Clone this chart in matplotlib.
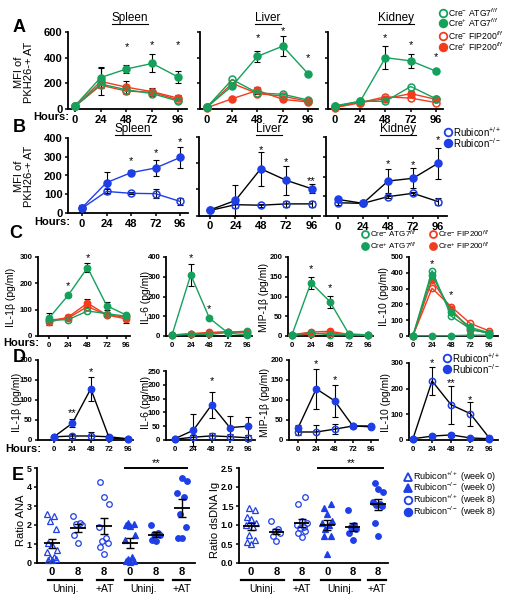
import numpy as np
import matplotlib
matplotlib.use("Agg")
import matplotlib.pyplot as plt
from matplotlib.lines import Line2D
from matplotlib.transforms import offset_copy

plt.rcParams['font.family'] = ['Liberation Sans', 'DejaVu Sans']
plt.rcParams['mathtext.fontset'] = 'custom'
plt.rcParams['mathtext.rm'] = 'Liberation Sans'
plt.rcParams['mathtext.it'] = 'Liberation Sans:italic'
plt.rcParams['mathtext.bf'] = 'Liberation Sans:bold'

W, H = 512, 604
GREEN = '#15a05c'
RED = '#f23c1e'
BLUE = '#1e3ee8'

hours = [0, 24, 48, 72, 96]

# --- A: MFI of PKH26+ AT (ATG7 / FIP200) ---
a_spl_atg7_wt = [20, 195, 150, 120, 62]
a_spl_atg7_ko = [25, 245, 312, 355, 250]
a_spl_atg7_ko_err = [5, 80, 28, 70, 48]
a_spl_fip_wt = [20, 185, 140, 130, 72]
a_spl_fip_ko = [20, 215, 170, 135, 85]
a_spl_fip_ko_err = [5, 105, 50, 30, 25]
a_spl_stars = [506, 522, 522]

a_liv_atg7_wt = [15, 230, 125, 115, 70]
a_liv_atg7_ko = [15, 180, 410, 490, 275]
a_liv_atg7_ko_err = [5, 20, 45, 80, 12]
a_liv_fip_wt = [12, 200, 120, 100, 60]
a_liv_fip_ko = [10, 80, 145, 75, 55]
a_liv_fip_ko_err = [3, 10, 28, 12, 8]
a_liv_stars = [582, 636, 420]

a_kid_atg7_wt = [20, 60, 60, 175, 80]
a_kid_atg7_ko = [25, 60, 400, 375, 295]
a_kid_atg7_ko_err = [5, 5, 90, 55, 8]
a_kid_fip_wt = [15, 50, 95, 85, 50]
a_kid_fip_ko = [10, 50, 80, 120, 75]
a_kid_fip_ko_err = [3, 5, 15, 20, 15]
a_kid_stars = [582, 524, 434]
a_star_hours = [48, 72, 96]

# --- B: MFI of PKH26+ AT (Rubicon) ---
b_spl_wt = [25, 115, 105, 103, 62]
b_spl_wt_err = [18, 12, 5, 25, 17]
b_spl_ko = [28, 162, 215, 240, 296]
b_spl_ko_err = [15, 55, 15, 45, 58]
b_spl_stars = [297, 336, 398]

b_liv_wt = [20, 42, 40, 45, 45]
b_liv_wt_err = [4, 12, 6, 12, 10]
b_liv_ko = [22, 58, 179, 135, 103]
b_liv_ko_err = [5, 60, 64, 56, 18]
b_liv_stars = [263, 218, 147]
b_liv_star_text = ['*', '*', '**']

b_kid_wt = [67, 64, 98, 115, 73]
b_kid_wt_err = [10, 5, 8, 8, 17]
b_kid_ko = [84, 64, 177, 191, 267]
b_kid_ko_err = [10, 6, 59, 50, 79]
b_kid_stars = [283, 275, 401]

# --- C: cytokines (ATG7 / FIP200) ---
c_il1_atg7_wt = [60, 62, 95, 85, 75]
c_il1_atg7_ko = [68, 155, 260, 115, 80]
c_il1_atg7_ko_err = [20, 5, 18, 15, 8]
c_il1_fip_wt = [60, 68, 112, 80, 72]
c_il1_fip_ko = [52, 72, 125, 80, 65]
c_il1_fip_ko_err = [12, 8, 15, 8, 15]
c_il1_star_hours = [24, 48]
c_il1_stars = [202, 308]

c_il6_atg7_wt = [5, 8, 8, 18, 25]
c_il6_atg7_ko = [5, 310, 90, 15, 5]
c_il6_atg7_ko_err = [2, 55, 5, 5, 3]
c_il6_fip_wt = [5, 10, 15, 20, 20]
c_il6_fip_ko = [5, 12, 18, 22, 15]
c_il6_stars = [410, 153]

c_mip_atg7_wt = [3, 8, 3, 3, 3]
c_mip_atg7_ko = [3, 135, 87, 5, 3]
c_mip_atg7_ko_err = [0, 15, 15, 2, 0]
c_mip_fip_wt = [2, 5, 8, 3, 2]
c_mip_fip_ko = [3, 10, 12, 4, 3]
c_mip_stars = [177, 129]

c_il10_atg7_wt = [2, 413, 126, 45, 15]
c_il10_atg7_ko = [2, 386, 154, 55, 20]
c_il10_atg7_ko_err = [0, 15, 12, 8, 3]
c_il10_uninj = [2, 2, 2, 5, 5]
c_il10_fip_wt = [2, 302, 186, 80, 32]
c_il10_fip_ko = [2, 354, 169, 38, 21]
c_il10_stars = [477, 280]

# --- D: cytokines (Rubicon) ---
d_il1_wt = [8, 10, 10, 8, 3]
d_il1_wt_err = [3, 5, 10, 5, 1]
d_il1_ko = [8, 42, 128, 5, 3]
d_il1_ko_err = [3, 10, 30, 3, 1]
d_il1_star_hours = [24, 48]
d_il1_stars = [75, 179]
d_il1_star_text = ['**', '*']

d_il6_wt = [3, 10, 15, 12, 8]
d_il6_wt_err = [2, 8, 10, 10, 10]
d_il6_ko = [5, 35, 127, 45, 50]
d_il6_ko_err = [2, 58, 48, 42, 32]
d_il6_star_hours = [48]
d_il6_stars = [226]

d_mip_wt = [20, 20, 27, 35, 35]
d_mip_wt_err = [8, 18, 12, 4, 3]
d_mip_ko = [30, 128, 98, 35, 33]
d_mip_ko_err = [8, 50, 40, 5, 4]
d_mip_star_hours = [24, 48]
d_mip_stars = [198, 158]

d_il10_wt = [5, 230, 137, 103, 8]
d_il10_wt_err = [3, 55, 73, 47, 3]
d_il10_ko = [5, 15, 20, 8, 5]
d_il10_ko_err = [3, 10, 8, 3, 2]
d_il10_star_hours = [24, 48, 72]
d_il10_stars = [312, 234, 169]
d_il10_star_text = ['*', '**', '*']

# --- E: autoantibodies ---
e_ticks = ['0', '8', '8', '0', '8', '8']
e_groups = ['Uninj.', '+AT', 'Uninj.', '+AT']
ana = [
    [2.6, 2.45, 2.2, 1.8, 1.05, 0.95, 0.7, 0.6, 0.25, 0.15, 0.15, 0.2, 0.3],
    [2.45, 2.1, 2.05, 2.0, 1.5, 1.05],
    [4.25, 3.45, 3.1, 1.9, 1.3, 1.15, 1.05, 0.85, 0.45],
    [2.1, 2.05, 2.0, 1.95, 1.5, 1.2, 0.3, 0.1, 0.1, 0.2, 0.05],
    [2.0, 1.6, 1.55, 1.5, 1.2, 1.15],
    [4.5, 4.3, 3.7, 3.5, 2.6, 1.9, 1.3, 1.3],
]
dsdna = [
    [1.45, 1.4, 1.2, 1.15, 1.05, 1.0, 0.95, 0.75, 0.6, 0.55, 0.5],
    [1.1, 0.9, 0.85, 0.8, 0.72, 0.58],
    [1.75, 1.55, 1.1, 1.05, 1.0, 0.95, 0.92, 0.85, 0.8, 0.68],
    [1.55, 1.45, 1.3, 1.1, 1.05, 1.0, 0.9, 0.7, 0.7, 0.25],
    [1.4, 1.0, 0.95, 0.9, 0.8, 0.6],
    [2.1, 1.95, 1.88, 1.6, 1.55, 1.52, 1.5, 1.05, 0.72],
]
e_markers = ['^', 'o', 'o', '^', 'o', 'o']
e_filled = [False, False, False, True, True, True]

fig = plt.figure(figsize=(W / 100, H / 100), dpi=100)


def fx(x):
    return x / W


def fy(y):
    return 1 - y / H


def axes_px(l, t, r, b):
    return fig.add_axes([l / W, 1 - b / H, (r - l) / W, (b - t) / H])


def frame(ax, fs):
    for s in ('top', 'right'):
        ax.spines[s].set_visible(False)
    for s in ('left', 'bottom'):
        ax.spines[s].set_linewidth(1.3)
    ax.tick_params(width=1.1, length=2.5, labelsize=fs, pad=1.5)


def curve(ax, y, err, color, filled, line=None, ms=5):
    ax.plot(hours, y, color=line or color, lw=1, marker='o', ms=ms,
            mfc=color if filled else 'none', mec=color, mew=1.1, zorder=3,
            clip_on=False)
    if err is not None:
        e = np.array(err, dtype=float)
        m = e > 0
        ax.errorbar(np.array(hours)[m], np.array(y)[m], yerr=e[m], fmt='none',
                    ecolor='black', elinewidth=0.8, capsize=2.5, capthick=0.8,
                    zorder=2, clip_on=False)


def setup(ax, xlim, ylim, yticks, show_y, fs):
    frame(ax, fs)
    ax.set_xlim(xlim)
    ax.set_ylim(ylim)
    ax.set_xticks(hours)
    ax.set_xticklabels([str(h) for h in hours], fontweight='bold', fontsize=fs)
    ax.set_yticks(yticks)
    ax.set_yticklabels([str(v) for v in yticks] if show_y else [''] * len(yticks),
                       fontweight='bold', fontsize=fs)


def stars(ax, xs, ys, texts=None, fs=8):
    tr = offset_copy(ax.transData, fig=fig, y=-2.5, units='points')
    for i, (x, y) in enumerate(zip(xs, ys)):
        t = texts[i] if texts else '*'
        ax.text(x, y, t, ha='center', va='center', fontsize=fs, transform=tr)


def key(x, y, marker, color, filled, text, fs=6.5, ms=5.5):
    fig.add_artist(Line2D([fx(x)], [fy(y)], marker=marker, ms=ms,
                          mfc=color if filled else 'none', mec=color, mew=1.3,
                          ls='none', transform=fig.transFigure))
    fig.text(fx(x + 5), fy(y), text, fontsize=fs, va='center')


titles = []


def title(x, y, text):
    titles.append(fig.text(fx(x), fy(y), text, fontsize=8.5, ha='center', va='center'))


def letter(x, y, s):
    fig.text(fx(x), fy(y), s, fontsize=13, fontweight='bold', ha='center', va='center')


def vlabel(x, y, s, fs=8):
    fig.text(fx(x), fy(y), s, fontsize=fs, rotation=90, ha='center', va='center',
             multialignment='center', linespacing=1.0)


def hours_label(x, y, fs):
    fig.text(fx(x), fy(y), 'Hours:', fontsize=fs, fontweight='bold', ha='center', va='center')


# ---------------- Panel A ----------------
ax = axes_px(68, 32, 187, 109)
curve(ax, a_spl_fip_wt, None, RED, False)
curve(ax, a_spl_fip_ko, a_spl_fip_ko_err, RED, True)
curve(ax, a_spl_atg7_wt, None, GREEN, False)
curve(ax, a_spl_atg7_ko, a_spl_atg7_ko_err, GREEN, True)
setup(ax, (-6.5, 104.4), (0, 600), [0, 200, 400, 600], True, 8)
stars(ax, a_star_hours, a_spl_stars)

ax = axes_px(200, 32, 318, 109)
curve(ax, a_liv_fip_wt, None, RED, False)
curve(ax, a_liv_fip_ko, a_liv_fip_ko_err, RED, True)
curve(ax, a_liv_atg7_wt, None, GREEN, False)
curve(ax, a_liv_atg7_ko, a_liv_atg7_ko_err, GREEN, True)
setup(ax, (-6.6, 105.5), (0, 600), [0, 200, 400, 600], False, 8)
stars(ax, a_star_hours, a_liv_stars)

ax = axes_px(328, 32, 443, 109)
curve(ax, a_kid_fip_wt, None, RED, False)
curve(ax, a_kid_fip_ko, a_kid_fip_ko_err, RED, True)
curve(ax, a_kid_atg7_wt, None, GREEN, False)
curve(ax, a_kid_atg7_ko, a_kid_atg7_ko_err, GREEN, True)
setup(ax, (-6.6, 102.7), (0, 600), [0, 200, 400, 600], False, 8)
stars(ax, a_star_hours, a_kid_stars)

title(130, 18, 'Spleen')
title(268, 18, 'Liver')
title(396, 18, 'Kidney')
letter(19, 27, 'A')
vlabel(24, 72, 'MFI of\nPKH26-+ AT')
hours_label(51, 117, 8)

key(443, 13, 'o', GREEN, False, r'Cre$^{-}$ ATG7$^{f/f}$', fs=6.2)
key(443, 23, 'o', GREEN, True, r'Cre$^{+}$ ATG7$^{f/f}$', fs=6.2)
key(443, 36, 'o', RED, False, r'Cre$^{-}$ FIP200$^{f/f}$', fs=6.2)
key(443, 47, 'o', RED, True, r'Cre$^{+}$ FIP200$^{f/f}$', fs=6.2)

# ---------------- Panel B ----------------
ax = axes_px(68, 138, 188, 213)
curve(ax, b_spl_wt, b_spl_wt_err, BLUE, False)
curve(ax, b_spl_ko, b_spl_ko_err, BLUE, True)
setup(ax, (-13.7, 103.8), (0, 400), [0, 100, 200, 300, 400], True, 8)
stars(ax, a_star_hours, b_spl_stars)

ax = axes_px(199, 137, 320, 215.7)
curve(ax, b_liv_wt, b_liv_wt_err, BLUE, False, line='black')
curve(ax, b_liv_ko, b_liv_ko_err, BLUE, True, line='black')
setup(ax, (-10.4, 104), (0, 300), [0, 100, 200, 300], False, 8)
stars(ax, a_star_hours, b_liv_stars, b_liv_star_text)

ax = axes_px(326, 137, 447, 216)
curve(ax, b_kid_wt, b_kid_wt_err, BLUE, False, line='black')
curve(ax, b_kid_ko, b_kid_ko_err, BLUE, True, line='black')
setup(ax, (-11.5, 104.6), (0, 400), [0, 100, 200, 300, 400], False, 8)
stars(ax, a_star_hours, b_kid_stars)

title(133, 129, 'Spleen')
title(269, 129, 'Liver')
title(398, 129, 'Kidney')
letter(19, 127, 'B')
vlabel(24, 176, 'MFI of\nPKH26-+ AT')
hours_label(52, 222, 8)
key(448, 132, 'o', BLUE, False, r'Rubicon$^{+/+}$', fs=7)
key(448, 143, 'o', BLUE, True, r'Rubicon$^{-/-}$', fs=7)

# ---------------- Panel C ----------------
fsc = 5.6
ax = axes_px(38, 257, 130, 336)
curve(ax, c_il1_fip_wt, None, RED, False, ms=4.5)
curve(ax, c_il1_fip_ko, c_il1_fip_ko_err, RED, True, ms=4.5)
curve(ax, c_il1_atg7_wt, None, GREEN, False, ms=4.5)
curve(ax, c_il1_atg7_ko, c_il1_atg7_ko_err, GREEN, True, ms=4.5)
setup(ax, (-13.7, 101), (0, 300), [0, 100, 200, 300], True, fsc)
stars(ax, c_il1_star_hours, c_il1_stars)

ax = axes_px(166, 257, 252, 336)
curve(ax, c_il6_fip_wt, None, RED, False, ms=4.5)
curve(ax, c_il6_fip_ko, None, RED, True, ms=4.5)
curve(ax, c_il6_atg7_wt, None, GREEN, False, ms=4.5)
curve(ax, c_il6_atg7_ko, c_il6_atg7_ko_err, GREEN, True, ms=4.5)
setup(ax, (-7.7, 102.5), (0, 400), [0, 100, 200, 300, 400], True, fsc)
stars(ax, c_il1_star_hours, c_il6_stars)

ax = axes_px(288, 257, 373, 336)
curve(ax, c_mip_fip_wt, None, RED, False, ms=4.5)
curve(ax, c_mip_fip_ko, None, RED, True, ms=4.5)
curve(ax, c_mip_atg7_wt, None, GREEN, False, ms=4.5)
curve(ax, c_mip_atg7_ko, c_mip_atg7_ko_err, GREEN, True, ms=4.5)
setup(ax, (-5, 102.5), (0, 200), [0, 50, 100, 150, 200], True, fsc)
stars(ax, c_il1_star_hours, c_mip_stars)

ax = axes_px(409, 257, 498, 336)
curve(ax, c_il10_uninj, None, GREEN, True, ms=4.5)
curve(ax, c_il10_fip_wt, None, RED, False, ms=4.5)
curve(ax, c_il10_fip_ko, None, RED, True, ms=4.5)
curve(ax, c_il10_atg7_wt, None, GREEN, False, ms=4.5)
curve(ax, c_il10_atg7_ko, c_il10_atg7_ko_err, GREEN, True, ms=4.5)
setup(ax, (-5, 107), (0, 500), [0, 100, 200, 300, 400, 500], True, fsc)
stars(ax, c_il1_star_hours, c_il10_stars)

letter(16, 233, 'C')
hours_label(21, 343, 8)
vlabel(11, 297, 'IL-1β (pg/ml)', 7.5)
vlabel(146, 297, 'IL-6 (pg/ml)', 7.5)
vlabel(264, 297, 'MIP-1β (pg/ml)', 7.5)
vlabel(384, 297, 'IL-10 (pg/ml)', 7.5)
key(365, 234, 'o', GREEN, False, r'Cre$^{-}$ ATG7$^{f/f}$', fs=5.8, ms=5)
key(365, 246, 'o', GREEN, True, r'Cre$^{+}$ ATG7$^{f/f}$', fs=5.8, ms=5)
key(433, 234, 'o', RED, False, r'Cre$^{-}$ FIP200$^{f/f}$', fs=5.8, ms=5)
key(433, 246, 'o', RED, True, r'Cre$^{+}$ FIP200$^{f/f}$', fs=5.8, ms=5)

# ---------------- Panel D ----------------
ax = axes_px(38, 360, 133, 440)
curve(ax, d_il1_wt, d_il1_wt_err, BLUE, False, line='black', ms=4.5)
curve(ax, d_il1_ko, d_il1_ko_err, BLUE, True, line='black', ms=4.5)
setup(ax, (-20.8, 103), (0, 200), [0, 50, 100, 150, 200], True, fsc)
stars(ax, d_il1_star_hours, d_il1_stars, d_il1_star_text)

ax = axes_px(166, 371, 255, 440)
curve(ax, d_il6_wt, d_il6_wt_err, BLUE, False, line='black', ms=4.5)
curve(ax, d_il6_ko, d_il6_ko_err, BLUE, True, line='black', ms=4.5)
setup(ax, (-11.8, 105), (0, 250), [0, 50, 100, 150, 200, 250], True, fsc)
stars(ax, d_il6_star_hours, d_il6_stars)

ax = axes_px(289, 360, 378, 440)
curve(ax, d_mip_wt, d_mip_wt_err, BLUE, False, line='black', ms=4.5)
curve(ax, d_mip_ko, d_mip_ko_err, BLUE, True, line='black', ms=4.5)
setup(ax, (-11.8, 105), (0, 200), [0, 50, 100, 150, 200], True, fsc)
stars(ax, d_mip_star_hours, d_mip_stars)

ax = axes_px(409, 363, 498, 440)
curve(ax, d_il10_wt, d_il10_wt_err, BLUE, False, line='black', ms=4.5)
curve(ax, d_il10_ko, d_il10_ko_err, BLUE, True, line='black', ms=4.5)
setup(ax, (-5, 107), (0, 300), [0, 100, 200, 300], True, fsc)
stars(ax, d_il10_star_hours, d_il10_stars, d_il10_star_text)

letter(19, 357, 'D')
hours_label(23, 449, 8)
vlabel(17, 402, 'IL-1β (pg/ml)', 7.5)
vlabel(146, 402, 'IL-6 (pg/ml)', 7.5)
vlabel(265, 402, 'MIP-1β (pg/ml)', 7.5)
vlabel(386, 402, 'IL-10 (pg/ml)', 7.5)
key(447, 358, 'o', BLUE, False, r'Rubicon$^{+/+}$', fs=7)
key(447, 369, 'o', BLUE, True, r'Rubicon$^{-/-}$', fs=7)

# ---------------- Panel E ----------------
offs = [0.0, -0.14, 0.14, -0.07, 0.07, -0.2, 0.2]


def scatter_panel(ax, groups, ylim, yticks, ylabels, bars, sig):
    frame(ax, 7)
    for i, vals in enumerate(groups):
        v = np.sort(np.array(vals))
        xs = i + np.array([offs[k % len(offs)] for k in range(len(v))])
        ax.plot(xs, v, ls='none', marker=e_markers[i], ms=4 if e_markers[i] == 'o' else 4.5,
                mfc=BLUE if e_filled[i] else 'none', mec=BLUE, mew=0.9, clip_on=False, zorder=3)
        m = np.mean(vals)
        sem = np.std(vals, ddof=1) / np.sqrt(len(vals))
        ax.hlines(m, i - 0.3, i + 0.3, color='black', lw=1.3, zorder=4)
        ax.errorbar(i, m, yerr=sem, fmt='none', ecolor='black', elinewidth=1,
                    capsize=3, capthick=1, zorder=4)
    ax.set_ylim(ylim)
    ax.set_yticks(yticks)
    ax.set_yticklabels(ylabels, fontweight='bold', fontsize=6.5)
    ax.set_xticks(range(len(e_ticks)))
    ax.set_xticklabels(e_ticks, fontweight='bold', fontsize=8)
    ax.tick_params(axis='x', length=0, pad=3)
    tr = ax.get_xaxis_transform()
    for (x0, x1), g in zip(bars, e_groups):
        ax.plot([x0, x1], [-0.175, -0.175], color='black', lw=1.6, transform=tr, clip_on=False)
        ax.text((x0 + x1) / 2, -0.27, g, ha='center', va='center', fontsize=7.5, transform=tr)
    (s0, s1) = sig
    ax.plot([s0, s1], [1.0, 1.0], color='black', lw=1.4, transform=tr, clip_on=False)
    ax.text((s0 + s1) / 2, 1.05, '**', ha='center', va='center', fontsize=8, transform=tr)


ax = axes_px(37, 468, 195, 563)
scatter_panel(ax, ana, (0, 5), [0, 1, 2, 3, 4, 5], ['0', '1', '2', '3', '4', '5'],
              [(-0.15, 1.15), (1.73, 2.35), (2.8, 4.27), (4.65, 5.3)], (2.8, 5.2))
ax.set_xlim(-0.58, 5.5)

ax = axes_px(239, 468, 388, 563)
scatter_panel(ax, dsdna, (0, 2.5), [0, 0.5, 1.0, 1.5, 2.0, 2.5],
              ['0.0', '0.5', '1.0', '1.5', '2.0', '2.5'],
              [(-0.4, 1.3), (1.7, 2.3), (2.75, 4.3), (4.6, 5.3)], (2.65, 5.2))
ax.set_xlim(-0.47, 5.39)

letter(18, 475, 'E')
vlabel(21, 520, 'Ratio ANA', 8)
vlabel(215, 520, 'Ratio dsDNA Ig', 8)
key(408, 477, '^', BLUE, False, r'Rubicon$^{+/+}$ (week 0)', fs=6.5)
key(408, 488, '^', BLUE, True, r'Rubicon$^{-/-}$ (week 0)', fs=6.5)
key(408, 500, 'o', BLUE, False, r'Rubicon$^{+/+}$ (week 8)', fs=6.5)
key(408, 512, 'o', BLUE, True, r'Rubicon$^{-/-}$ (week 8)', fs=6.5)

# underline organ titles
fig.canvas.draw()
r = fig.canvas.get_renderer()
for t in titles:
    bb = t.get_window_extent(r)
    yb = (bb.y0 + 0.5) / fig.bbox.height
    fig.add_artist(Line2D([bb.x0 / fig.bbox.width, bb.x1 / fig.bbox.width], [yb, yb],
                          color='black', lw=0.8, transform=fig.transFigure))

fig.savefig('out.png', dpi=100)
